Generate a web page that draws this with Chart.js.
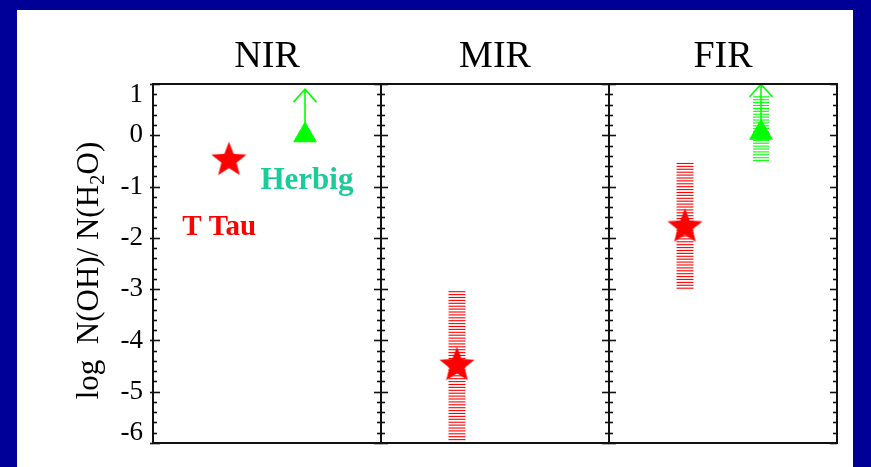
<!DOCTYPE html>
<html>
<head>
<meta charset="utf-8">
<script src="https://cdn.jsdelivr.net/npm/chart.js@4/dist/chart.umd.min.js"></script>
<style>
  html, body { margin: 0; padding: 0; background: #000099; }
  #wrap { width: 871px; height: 467px; }
  canvas { display: block; }
</style>
</head>
<body>
<div id="wrap"><canvas id="c" width="871" height="467"></canvas></div>
<script>
// Wavelength regimes (one panel each)
const categories = ['NIR', 'MIR', 'FIR'];

// log N(OH)/N(H2O) for T Tauri discs
const tTauValue = [-0.45, -4.45, -1.75];
const tTauLow   = [null, -6.0, -3.0];
const tTauHigh  = [null, -3.05, -0.55];

// log N(OH)/N(H2O) for Herbig discs (lower limits)
const herbigValue = [0.0, null, 0.05];
const herbigLow   = [null, null, -0.5];
const herbigHigh  = [null, null, 0.75];
const herbigLimitTop = [0.9, null, 1.0];

// y-axis range and labelled ticks
const yMin = -6, yMax = 1;
const yTickLabels = [1, 0, -1, -2, -3, -4, -5, -6];

// where each class sits inside its panel
const T_TAU_SLOT = 1 / 3;
const HERBIG_SLOT = 2 / 3;

const RED = '#ff0000';
const GREEN = '#00ff00';
const TEAL = '#19cc99';
const SERIF = '"Liberation Serif", "Times New Roman", serif';

// filled five-pointed star used as point style
function makeStar(R, ratio, color) {
  const size = Math.ceil(R * 2 + 4);
  const cv = document.createElement('canvas');
  cv.width = size; cv.height = size;
  const g = cv.getContext('2d');
  const cx = size / 2, cy = size / 2 + R * 0.1;
  g.beginPath();
  for (let i = 0; i < 10; i++) {
    const r = i % 2 === 0 ? R : R * ratio;
    const a = -Math.PI / 2 + i * Math.PI / 5;
    const px = cx + r * Math.cos(a), py = cy + r * Math.sin(a);
    if (i === 0) g.moveTo(px, py); else g.lineTo(px, py);
  }
  g.closePath();
  g.fillStyle = color;
  g.fill();
  return cv;
}
const starImg = makeStar(18.5, 0.43, RED);

const tTauPoints = categories.map((c, i) => ({ x: i + T_TAU_SLOT, y: tTauValue[i] }))
  .filter(p => p.y !== null);
const herbigPoints = categories.map((c, i) => ({ x: i + HERBIG_SLOT, y: herbigValue[i] }))
  .filter(p => p.y !== null);

// text annotations placed in data coordinates
const annotations = [
  { text: 'T Tau', x: 0.29, y: -1.8, color: RED, size: 29 },
  { text: 'Herbig', x: 0.675, y: -0.9, color: TEAL, size: 31 }
];

function hatchBand(ctx, xs, ys, xCenter, lo, hi, halfW, color) {
  const x = xs.getPixelForValue(xCenter);
  const yTop = ys.getPixelForValue(hi);
  const yBot = ys.getPixelForValue(lo);
  ctx.save();
  ctx.strokeStyle = color;
  ctx.lineWidth = 1.1;
  for (let y = yTop; y <= yBot; y += 2.9) {
    ctx.beginPath();
    ctx.moveTo(x - halfW, y);
    ctx.lineTo(x + halfW, y);
    ctx.stroke();
  }
  ctx.restore();
}

function limitArrow(ctx, xs, ys, xVal, from, to, color) {
  const x = xs.getPixelForValue(xVal);
  const y0 = ys.getPixelForValue(from);
  const y1 = ys.getPixelForValue(to);
  ctx.save();
  ctx.strokeStyle = color;
  ctx.lineWidth = 1.6;
  ctx.beginPath();
  ctx.moveTo(x, y0);
  ctx.lineTo(x, y1);
  ctx.moveTo(x - 11.5, y1 + 13);
  ctx.lineTo(x, y1);
  ctx.lineTo(x + 11.5, y1 + 13);
  ctx.stroke();
  ctx.restore();
}

const framePlugin = {
  id: 'panelFrame',
  beforeDraw(chart) {
    const ctx = chart.ctx;
    ctx.save();
    ctx.fillStyle = '#000099';
    ctx.fillRect(0, 0, chart.width, chart.height);
    ctx.fillStyle = '#ffffff';
    ctx.fillRect(17, 10, 836, chart.height - 10);
    ctx.restore();
  },
  beforeDatasetsDraw(chart) {
    const ctx = chart.ctx;
    const xs = chart.scales.x, ys = chart.scales.y;
    // hatched ranges
    categories.forEach((c, i) => {
      if (tTauLow[i] !== null) hatchBand(ctx, xs, ys, i + T_TAU_SLOT, tTauLow[i], tTauHigh[i], 8.5, RED);
      if (herbigLow[i] !== null) hatchBand(ctx, xs, ys, i + HERBIG_SLOT, herbigLow[i], herbigHigh[i], 8, GREEN);
    });
    // lower-limit arrows
    categories.forEach((c, i) => {
      if (herbigValue[i] !== null && herbigLimitTop[i] !== null)
        limitArrow(ctx, xs, ys, i + HERBIG_SLOT, herbigValue[i], herbigLimitTop[i], GREEN);
    });
  },
  afterDatasetsDraw(chart) {
    const ctx = chart.ctx;
    const xs = chart.scales.x, ys = chart.scales.y;
    const a = chart.chartArea;
    ctx.save();
    // ticks on every panel boundary
    ctx.strokeStyle = '#111';
    ctx.lineWidth = 1.6;
    for (let b = 0; b <= categories.length; b++) {
      const px = xs.getPixelForValue(b);
      for (let k = yMin * 5; k <= yMax * 5; k++) {
        const py = Math.round(ys.getPixelForValue(k / 5)) + 0.5;
        const major = k % 5 === 0;
        const len = major ? 7 : 4;
        const left = b === 0 ? (major ? 3 : 0) : len;
        const right = b === categories.length ? 0 : len;
        ctx.beginPath();
        ctx.moveTo(px - left, py);
        ctx.lineTo(px + right, py);
        ctx.stroke();
      }
    }
    // frame and panel dividers
    ctx.lineWidth = 2;
    ctx.strokeRect(a.left, a.top, a.right - a.left, a.bottom - a.top);
    for (let b = 1; b < categories.length; b++) {
      const px = xs.getPixelForValue(b);
      ctx.beginPath();
      ctx.moveTo(px, a.top);
      ctx.lineTo(px, a.bottom);
      ctx.stroke();
    }
    // y tick labels, kept inside the frame height
    ctx.fillStyle = '#000';
    ctx.font = '27px ' + SERIF;
    ctx.textAlign = 'right';
    ctx.textBaseline = 'middle';
    yTickLabels.forEach(v => {
      let py = ys.getPixelForValue(v);
      py = Math.max(a.top + 11, Math.min(a.bottom - 10, py));
      ctx.fillText(String(v), a.left - 10, py);
    });
    // panel titles
    ctx.font = '38px ' + SERIF;
    ctx.textAlign = 'center';
    ctx.textBaseline = 'alphabetic';
    categories.forEach((c, i) => {
      ctx.fillText(c, xs.getPixelForValue(i + 0.5), 67);
    });
    // class labels
    ctx.textBaseline = 'middle';
    annotations.forEach(t => {
      ctx.font = 'bold ' + t.size + 'px ' + SERIF;
      ctx.fillStyle = t.color;
      ctx.fillText(t.text, xs.getPixelForValue(t.x), ys.getPixelForValue(t.y));
    });
    // rotated y-axis title with subscript
    const parts = [
      { t: 'log  N(OH)/ N(H', f: '31px ' + SERIF, dy: 0 },
      { t: '2', f: '21px ' + SERIF, dy: 6 },
      { t: 'O)', f: '31px ' + SERIF, dy: 0 }
    ];
    ctx.fillStyle = '#000';
    ctx.textAlign = 'left';
    ctx.textBaseline = 'alphabetic';
    let total = 0;
    parts.forEach(p => { ctx.font = p.f; p.w = ctx.measureText(p.t).width; total += p.w; });
    ctx.translate(98, (a.top + a.bottom) / 2 + 7);
    ctx.rotate(-Math.PI / 2);
    let cx = -total / 2;
    parts.forEach(p => {
      ctx.font = p.f;
      ctx.fillText(p.t, cx, p.dy);
      cx += p.w;
    });
    ctx.restore();
  }
};

new Chart(document.getElementById('c'), {
  type: 'scatter',
  data: {
    datasets: [
      {
        label: 'T Tau',
        data: tTauPoints,
        pointStyle: starImg,
        pointRadius: 18,
        backgroundColor: RED,
        borderColor: RED
      },
      {
        label: 'Herbig',
        data: herbigPoints,
        pointStyle: 'triangle',
        pointRadius: 13,
        borderWidth: 1,
        backgroundColor: GREEN,
        borderColor: GREEN
      }
    ]
  },
  options: {
    responsive: false,
    animation: false,
    layout: { padding: { left: 153, right: 34, top: 84, bottom: 24 } },
    scales: {
      x: { type: 'linear', min: 0, max: categories.length, display: false },
      y: { type: 'linear', min: yMin, max: yMax, display: false }
    },
    plugins: {
      legend: { display: false },
      tooltip: { enabled: false }
    }
  },
  plugins: [framePlugin]
});
</script>
</body>
</html>
